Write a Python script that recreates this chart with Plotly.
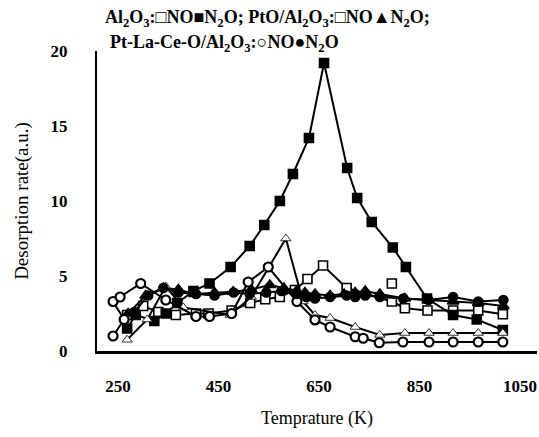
import plotly.graph_objects as go

# ---- data (temperature K, desorption rate a.u.) ----
al_no_x = [268, 300, 330, 365, 405, 430, 476, 513, 543, 572, 602, 627, 658, 705, 795, 821, 866, 917, 967, 1016]
al_no_y = [2.4, 3.0, 2.6, 2.4, 2.5, 2.5, 2.7, 3.2, 3.45, 3.6, 4.07, 4.8, 5.7, 4.2, 3.3, 2.85, 2.7, 2.7, 2.7, 2.45]

al_n2o_x = [268, 285, 322, 345, 368, 400, 432, 474, 512, 541, 572, 598, 630, 660, 706, 726, 755, 797, 823, 865, 917, 964, 1016]
al_n2o_y = [1.5, 2.4, 2.0, 2.5, 3.2, 4.0, 4.5, 5.6, 7.0, 8.4, 10.0, 11.8, 14.2, 19.2, 12.2, 10.2, 8.6, 6.9, 5.6, 3.5, 2.4, 2.1, 1.4]

pt_no_x = [268, 308, 345, 380, 473, 515, 584, 618, 642, 672, 722, 771, 821, 869, 917, 967, 1016]
pt_no_y = [0.75, 2.1, 4.3, 2.9, 2.4, 3.6, 7.5, 3.3, 2.4, 2.2, 1.6, 1.07, 1.2, 1.2, 1.2, 1.2, 1.2]

pt_no_extra_x = [795]
pt_no_extra_y = [4.5]

pt_n2o_x = [270, 305, 340, 370, 402, 442, 479, 515, 552, 580, 605, 622, 642, 672, 700, 722, 742, 771, 821, 868, 917, 967, 1017]
pt_n2o_y = [2.5, 3.7, 4.2, 4.1, 3.8, 3.9, 3.95, 4.1, 4.4, 4.2, 4.0, 3.9, 3.8, 3.7, 3.8, 3.9, 4.0, 3.8, 3.5, 3.4, 3.3, 3.2, 3.0]

plc_no_x = [240, 262, 240, 254, 295, 345, 405, 432, 476, 509, 549, 606, 642, 672, 722, 738, 770, 817, 869, 917, 967, 1016]
plc_no_y = [1.0, 2.1, 3.3, 3.6, 4.5, 3.4, 2.3, 2.3, 2.5, 4.6, 5.6, 3.3, 2.07, 1.6, 0.95, 0.85, 0.55, 0.6, 0.6, 0.6, 0.6, 0.6]

plc_n2o_x = [282, 310, 340, 370, 405, 442, 480, 512, 545, 575, 605, 625, 642, 672, 705, 722, 742, 771, 818, 868, 917, 967, 1017]
plc_n2o_y = [2.6, 3.7, 4.2, 3.9, 3.8, 3.7, 3.9, 3.8, 3.9, 4.0, 3.8, 3.6, 3.5, 3.6, 3.7, 3.6, 3.7, 3.6, 3.5, 3.4, 3.6, 3.3, 3.4]

x_ticks = [250, 450, 650, 850, 1050]
y_ticks = [0, 5, 10, 15, 20]

FONT = "Liberation Serif"

fig = go.Figure()


def add(x, y, symbol, fill, size=8, lw=1.6, mode="lines+markers", name=""):
    fig.add_trace(go.Scatter(
        x=x, y=y, mode=mode, name=name,
        line=dict(color="black", width=2),
        marker=dict(symbol=symbol, size=size, color=fill,
                    line=dict(color="black", width=lw)),
        showlegend=False, cliponaxis=False))


add(al_no_x, al_no_y, "square", "white", size=9, name="Al2O3 NO")
add(al_n2o_x, al_n2o_y, "square", "black", size=9, name="Al2O3 N2O")
add(pt_no_x, pt_no_y, "triangle-up", "white", size=9, lw=0.8, name="PtO NO")
add(pt_no_extra_x, pt_no_extra_y, "square", "white", size=9, mode="markers", name="PtO NO sq")
add(pt_n2o_x, pt_n2o_y, "triangle-up", "black", size=10, name="PtO N2O")
add(plc_no_x, plc_no_y, "circle", "white", size=9, lw=2.2, name="PLC NO")
add(plc_n2o_x, plc_n2o_y, "circle", "black", size=9, name="PLC N2O")

fig.update_layout(
    width=539, height=437,
    margin=dict(l=97, r=2, t=51, b=86),
    paper_bgcolor="white", plot_bgcolor="white",
    font=dict(family=FONT, size=14, color="black"),
    xaxis=dict(range=[208, 1084], tickvals=x_ticks, ticktext=[str(v) for v in x_ticks],
               showgrid=False, zeroline=False, showline=True, linecolor="black", linewidth=2.5,
               ticks="", ticklabelstandoff=18,
               tickfont=dict(family=FONT, size=17, color="black", weight="bold"),
               title=dict(text="Temprature (K)", font=dict(family=FONT, size=18), standoff=17)),
    yaxis=dict(range=[0, 20], tickvals=y_ticks, ticktext=[str(v) for v in y_ticks],
               showgrid=False, zeroline=False, showline=True, linecolor="black", linewidth=2,
               ticks="", ticklabelstandoff=24,
               tickfont=dict(family=FONT, size=17, color="black", weight="bold"),
               title=dict(text="Desorption rate(a.u.)", font=dict(family=FONT, size=19), standoff=17)),
)

fig.add_annotation(
    xref="paper", yref="paper", x=(103 - 97) / 440, y=1 + (51 - 19) / 300,
    xanchor="left", yanchor="middle", showarrow=False,
    text="<b>Al<sub>2</sub>O<sub>3</sub>:□NO■N<sub>2</sub>O; PtO/Al<sub>2</sub>O<sub>3</sub>:□NO▲N<sub>2</sub>O;</b>",
    font=dict(family=FONT, size=18, color="black"), bgcolor="white")
fig.add_annotation(
    xref="paper", yref="paper", x=(108 - 97) / 440, y=1 + (51 - 44) / 300,
    xanchor="left", yanchor="middle", showarrow=False,
    text="<b>Pt-La-Ce-O/Al<sub>2</sub>O<sub>3</sub>:○NO●N<sub>2</sub>O</b>",
    font=dict(family=FONT, size=18, color="black"), bgcolor="white")

fig.write_html("out.html")
